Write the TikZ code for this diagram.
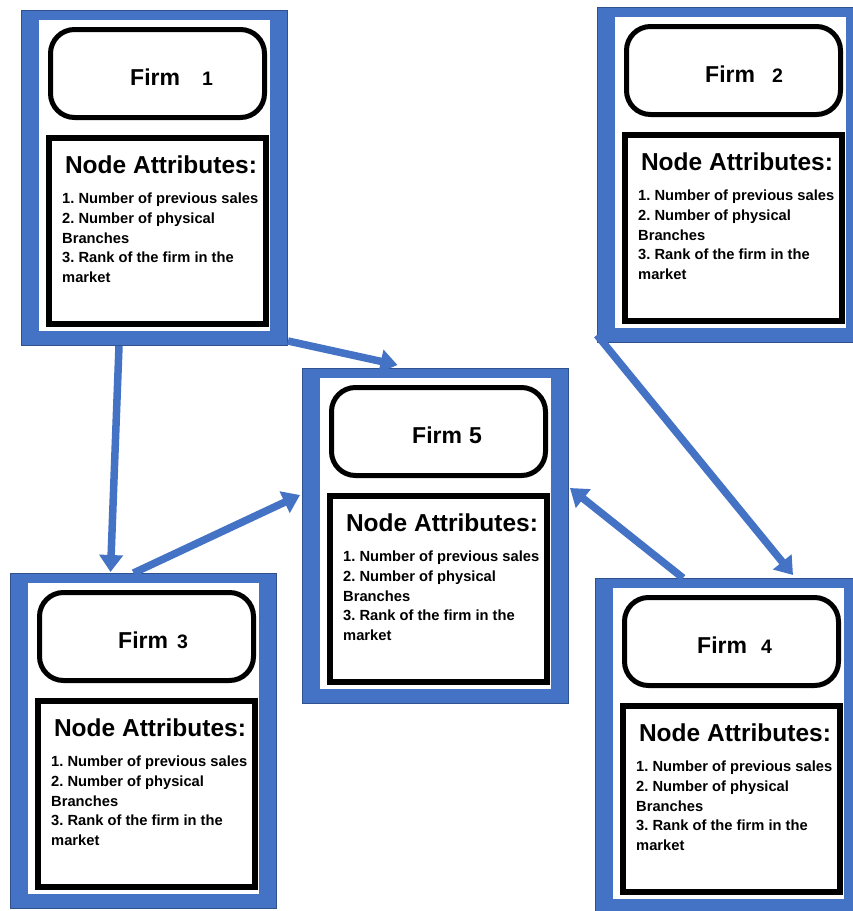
\documentclass[tikz,border=0pt]{standalone}
\usepackage{fontspec}
\setmainfont{Liberation Sans}
\usetikzlibrary{arrows.meta}
\definecolor{firmblue}{HTML}{4472C4}
\definecolor{firmedge}{HTML}{2F528F}
\frenchspacing

\begin{document}
\begin{tikzpicture}[x=1pt, y=-1pt,
  firmframe/.style={draw=firmedge, line width=1pt, fill=firmblue, minimum width=266pt,
    minimum height=335pt, inner sep=0pt, anchor=north west},
  firminner/.style={fill=white, minimum width=231pt, minimum height=311pt, inner sep=0pt,
    anchor=north west},
  titlebox/.style={draw, line width=5pt, rounded corners=24pt, fill=white,
    minimum width=214pt, minimum height=88pt, inner sep=0pt},
  attrbox/.style={draw, line width=6pt, fill=white, minimum width=217pt,
    minimum height=186pt, inner sep=0pt},
  titletext/.style={font=\bfseries\fontsize{23}{23}\selectfont, inner sep=0pt, anchor=base west},
  headtext/.style={font=\bfseries\fontsize{24.5}{26}\selectfont, inner sep=0pt, anchor=base},
  itemtext/.style={font=\bfseries\fontsize{14.7}{19.7}\selectfont, align=left, inner sep=0pt,
    anchor=north west},
  link/.style={draw=firmblue, line width=7.5pt, -{Triangle[length=17pt, width=23pt]}}]

  \clip (0,0) rectangle (853,911);
  \fill[white] (0,0) rectangle (853,911);

  % the five firms
  \foreach \n/\X/\Y/\dx/\gap/\ns in {1/21/10/109/22/19.5, 2/597/7/108/17/19.5,
      3/10/573/108/9/19.5, 4/595/578/102/14/19.5, 5/302/368/110/7/23} {
    \node[firmframe] (f\n) at (\X,\Y) {};
    \node[firminner] (w\n) at ({\X+18},{\Y+10}) {};
    \node[titlebox] (b\n) at ({\X+136.5},{\Y+63.5}) {};
    \node[titletext] (t\n) at ({\X+\dx},{\Y+75})
      {Firm\hspace{\gap pt}{\fontsize{\ns}{\ns}\selectfont\n}};
    \node[attrbox] (r\n) at ({\X+136.5},{\Y+221}) {};
    \node[headtext] (h\n) at ({\X+140},{\Y+163}) {Node Attributes:};
    \node[itemtext] (a\n) at ({\X+41},{\Y+183})
      {1. Number of previous sales\\2. Number of physical\\Branches\\
       3. Rank of the firm in the\\market};
  }

  % links between firms
  \draw[link] ([xshift=-35.5pt]f1.south) -- ([xshift=-33pt,yshift=1pt]f3.north);
  \draw[link] ([yshift=5pt]f1.south east) -- ([xshift=-38pt,yshift=3pt]f5.north);
  \draw[link] ([xshift=-10pt]f3.north) -- ([xshift=-2pt,yshift=41pt]f5.west);
  \draw[link] ([xshift=-45.5pt]f4.north) -- ([xshift=1pt,yshift=48pt]f5.east);
  \draw[link] ([yshift=8pt]f2.south west) -- ([xshift=64.5pt,yshift=3pt]f4.north);
\end{tikzpicture}
\end{document}
